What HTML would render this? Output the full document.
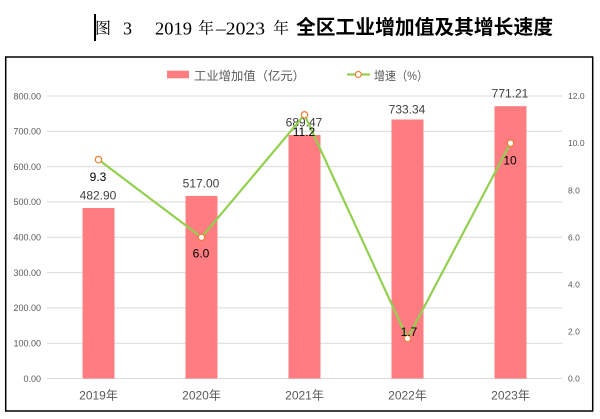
<!DOCTYPE html>
<html><head><meta charset="utf-8"><style>
html,body{margin:0;padding:0;background:#fff;}
svg{display:block;}
</style></head><body>
<svg width="600" height="419" viewBox="0 0 600 419" xmlns="http://www.w3.org/2000/svg">
<rect x="0" y="0" width="600" height="419" fill="#fff"/>
<!-- Title -->
<rect x="94" y="14" width="2" height="27" fill="#000"/>
<text x="95" y="33.5" font-family="'Noto Serif CJK SC','Noto Sans CJK SC',serif" font-size="16" fill="#000">图</text>
<text x="123" y="34.5" font-family="'Liberation Serif',serif" font-size="18" fill="#000">3</text>
<text x="155" y="34.5" font-family="'Liberation Serif',serif" font-size="18" fill="#000" textLength="37" lengthAdjust="spacingAndGlyphs">2019</text>
<text x="198" y="33.5" font-family="'Noto Serif CJK SC','Noto Sans CJK SC',serif" font-size="16" fill="#000">年</text>
<text x="216" y="34.5" font-family="'Liberation Serif',serif" font-size="18" fill="#000" textLength="49" lengthAdjust="spacingAndGlyphs">–2023</text>
<text x="273" y="33.5" font-family="'Noto Serif CJK SC','Noto Sans CJK SC',serif" font-size="16" fill="#000">年</text>
<text x="296" y="34" font-family="'Liberation Sans','Noto Sans CJK SC',sans-serif" font-size="19.8" font-weight="bold" fill="#000" textLength="257" lengthAdjust="spacingAndGlyphs">全区工业增加值及其增长速度</text>

<!-- Chart border -->
<rect x="5.7" y="57" width="587" height="354" fill="#fff" stroke="#000" stroke-width="1.5"/>

<!-- Legend -->
<rect x="167" y="70.7" width="22" height="7.6" fill="#ff7c80"/>
<text x="194" y="80" font-family="'Liberation Sans','Noto Sans CJK SC',sans-serif" font-size="12.2" fill="#595959" textLength="111" lengthAdjust="spacingAndGlyphs">工业增加值（亿元）</text>
<line x1="347" y1="74.5" x2="370" y2="74.5" stroke="#92d050" stroke-width="2.2"/>
<circle cx="358.3" cy="74.5" r="3" fill="#fff" stroke="#ed7d31" stroke-width="1.2"/>
<text x="374" y="80" font-family="'Liberation Sans','Noto Sans CJK SC',sans-serif" font-size="12.2" fill="#595959" textLength="54" lengthAdjust="spacingAndGlyphs">增速（%）</text>

<!-- Gridlines -->
<g stroke="#d9d9d9" stroke-width="1">
<line x1="47" y1="96" x2="562" y2="96"/>
<line x1="47" y1="131.3" x2="562" y2="131.3"/>
<line x1="47" y1="166.6" x2="562" y2="166.6"/>
<line x1="47" y1="201.9" x2="562" y2="201.9"/>
<line x1="47" y1="237.3" x2="562" y2="237.3"/>
<line x1="47" y1="272.6" x2="562" y2="272.6"/>
<line x1="47" y1="307.9" x2="562" y2="307.9"/>
<line x1="47" y1="343.2" x2="562" y2="343.2"/>
<line x1="47" y1="378.5" x2="562" y2="378.5"/>
</g>

<!-- Left axis labels -->
<g font-family="'Liberation Sans',sans-serif" font-size="9" fill="#595959" text-anchor="end">
<text x="41" y="99.3">800.00</text>
<text x="41" y="134.6">700.00</text>
<text x="41" y="169.9">600.00</text>
<text x="41" y="205.2">500.00</text>
<text x="41" y="240.6">400.00</text>
<text x="41" y="275.9">300.00</text>
<text x="41" y="311.2">200.00</text>
<text x="41" y="346.5">100.00</text>
<text x="41" y="381.8">0.00</text>
</g>
<!-- Right axis labels -->
<g font-family="'Liberation Sans',sans-serif" font-size="8.5" fill="#595959" text-anchor="start">
<text x="568" y="99.1">12.0</text>
<text x="568" y="146.2">10.0</text>
<text x="568" y="193.3">8.0</text>
<text x="568" y="240.4">6.0</text>
<text x="568" y="287.4">4.0</text>
<text x="568" y="334.5">2.0</text>
<text x="568" y="381.6">0.0</text>
</g>

<!-- Bars -->
<g fill="#ff7c80">
<rect x="82.5" y="208" width="32" height="170.5"/>
<rect x="185.5" y="195.9" width="32" height="182.6"/>
<rect x="288.5" y="135" width="32" height="243.5"/>
<rect x="391.5" y="119.5" width="32" height="259"/>
<rect x="494.5" y="106.2" width="32" height="272.3"/>
</g>

<!-- Category labels -->
<g font-family="'Liberation Sans','Noto Sans CJK SC',sans-serif" font-size="12" fill="#595959" text-anchor="middle">
<text x="98.5" y="399.5">2019年</text>
<text x="201.5" y="399.5">2020年</text>
<text x="304.5" y="399.5">2021年</text>
<text x="407.5" y="399.5">2022年</text>
<text x="510.5" y="399.5">2023年</text>
</g>

<!-- Bar value labels -->
<g font-family="'Liberation Sans',sans-serif" font-size="12" fill="#404040" text-anchor="middle">
<text x="98" y="199.3">482.90</text>
<text x="201" y="187.3">517.00</text>
<text x="304" y="126.6">689.47</text>
<text x="407" y="113.6">733.34</text>
<text x="510" y="97.6">771.21</text>
</g>

<!-- Line -->
<polyline points="98.5,159.6 201.5,237.3 304.5,114.8 407.5,338.5 510.5,143.1" fill="none" stroke="#92d050" stroke-width="2.2" stroke-linejoin="round"/>
<g fill="#fff" stroke="#ed7d31" stroke-width="1.2">
<circle cx="98.5" cy="159.6" r="3.2"/>
<circle cx="201.5" cy="237.3" r="3.2"/>
<circle cx="304.5" cy="114.8" r="3.2"/>
<circle cx="407.5" cy="338.5" r="3.2"/>
<circle cx="510.5" cy="143.1" r="3.2"/>
</g>

<!-- Line value labels -->
<g font-family="'Liberation Sans',sans-serif" font-size="12" fill="#000" text-anchor="middle">
<text x="98" y="181">9.3</text>
<text x="201" y="257.6">6.0</text>
<text x="304" y="136">11.2</text>
<text x="409" y="336">1.7</text>
<text x="510" y="164.3">10</text>
</g>
</svg>
</body></html>
